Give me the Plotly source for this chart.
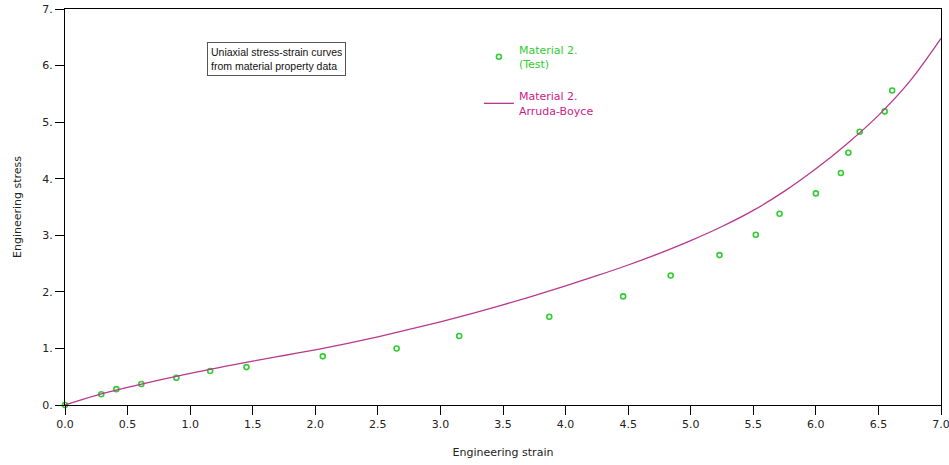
import plotly.graph_objects as go

# Material 2 uniaxial test data (engineering strain, engineering stress)
test_strain = [0.0, 0.29, 0.41, 0.61, 0.89, 1.16, 1.45, 2.06, 2.65, 3.15,
               3.87, 4.46, 4.84, 5.23, 5.52, 5.71, 6.00, 6.20, 6.26, 6.35, 6.55, 6.61]
test_stress = [0.0, 0.19, 0.28, 0.37, 0.48, 0.60, 0.67, 0.86, 1.00, 1.22,
               1.56, 1.92, 2.29, 2.65, 3.01, 3.38, 3.74, 4.10, 4.46, 4.83, 5.19, 5.56]

# Arruda-Boyce model response for Material 2
ab_strain = [0.0, 0.25, 0.5, 0.75, 1.0, 1.25, 1.5, 1.75, 2.0, 2.25, 2.5, 2.75,
             3.0, 3.25, 3.5, 3.75, 4.0, 4.25, 4.5, 4.75, 5.0, 5.25, 5.5, 5.75,
             6.0, 6.25, 6.5, 6.75, 7.0]
ab_stress = [0.0, 0.17, 0.31, 0.44, 0.56, 0.67, 0.775, 0.875, 0.975, 1.085, 1.205, 1.335,
             1.47, 1.615, 1.77, 1.935, 2.105, 2.285, 2.475, 2.68, 2.905, 3.155, 3.44, 3.78,
             4.175, 4.62, 5.12, 5.72, 6.48]

x_ticks = [0.0, 0.5, 1.0, 1.5, 2.0, 2.5, 3.0, 3.5, 4.0, 4.5, 5.0, 5.5, 6.0, 6.5, 7.0]
x_tick_text = ["0.0", "0.5", "1.0", "1.5", "2.0", "2.5", "3.0", "3.5",
               "4.0", "4.5", "5.0", "5.5", "6.0", "6.5", "7.0"]
y_ticks = [0, 1, 2, 3, 4, 5, 6, 7]
y_tick_text = ["0.", "1.", "2.", "3.", "4.", "5.", "6.", "7."]

GREEN = "#33cc33"
PINK_LINE = "#b8378f"
PINK_TEXT = "#cc1a88"
FONT = "DejaVu Sans"
BOX_FONT = "Liberation Sans"

fig = go.Figure()

fig.add_trace(go.Scatter(
    x=test_strain, y=test_stress, mode="markers",
    name=f'<span style="color:{GREEN}">Material 2.<br>(Test)</span>',
    legendgroup="test",
    marker=dict(symbol="circle-open", size=5, color=GREEN, line=dict(width=1.6, color=GREEN)),
    cliponaxis=False,
))

fig.add_trace(go.Scatter(
    x=ab_strain, y=ab_stress, mode="lines",
    name=f'<span style="color:{PINK_TEXT}">Material 2.<br>Arruda-Boyce</span>',
    legendgroup="ab",
    line=dict(color=PINK_LINE, width=1.3, shape="spline", smoothing=1.0),
))

axis_common = dict(
    showgrid=False, zeroline=False, showline=True, linecolor="black", linewidth=1.3,
    mirror=True, ticks="outside", ticklen=9, tickwidth=1.3, tickcolor="black",
    tickfont=dict(family=FONT, size=11, color="#222222"),
    automargin=False, ticklabeloverflow="allow",
)

fig.update_xaxes(
    range=[0, 7], tickmode="array", tickvals=x_ticks, ticktext=x_tick_text,
    title=dict(text="Engineering strain", font=dict(family=FONT, size=11, color="#222222"),
               standoff=17),
    **axis_common,
)
fig.update_yaxes(
    range=[0, 7], tickmode="array", tickvals=y_ticks, ticktext=y_tick_text,
    title=dict(text="Engineering stress", font=dict(family=FONT, size=11, color="#222222"),
               standoff=18),
    **axis_common,
)

fig.add_annotation(
    xref="paper", yref="paper", x=0.162, y=0.917, xanchor="left", yanchor="top",
    text="Uniaxial stress-strain curves<br>from material property data",
    showarrow=False, align="left",
    font=dict(family=BOX_FONT, size=10.5, color="#111111"),
    bordercolor="#555555", borderwidth=1, borderpad=3, bgcolor="white",
)

fig.update_layout(
    width=949, height=465,
    margin=dict(l=65, r=8, t=9, b=60),
    paper_bgcolor="white", plot_bgcolor="white",
    font=dict(family=FONT, size=11),
    showlegend=True,
    legend=dict(
        x=0.4725, y=0.932, xanchor="left", yanchor="top",
        traceorder="grouped", tracegroupgap=15,
        bgcolor="rgba(0,0,0,0)", borderwidth=0,
        font=dict(family=FONT, size=11),
        itemwidth=30,
    ),
)

fig.write_html("out.html")
